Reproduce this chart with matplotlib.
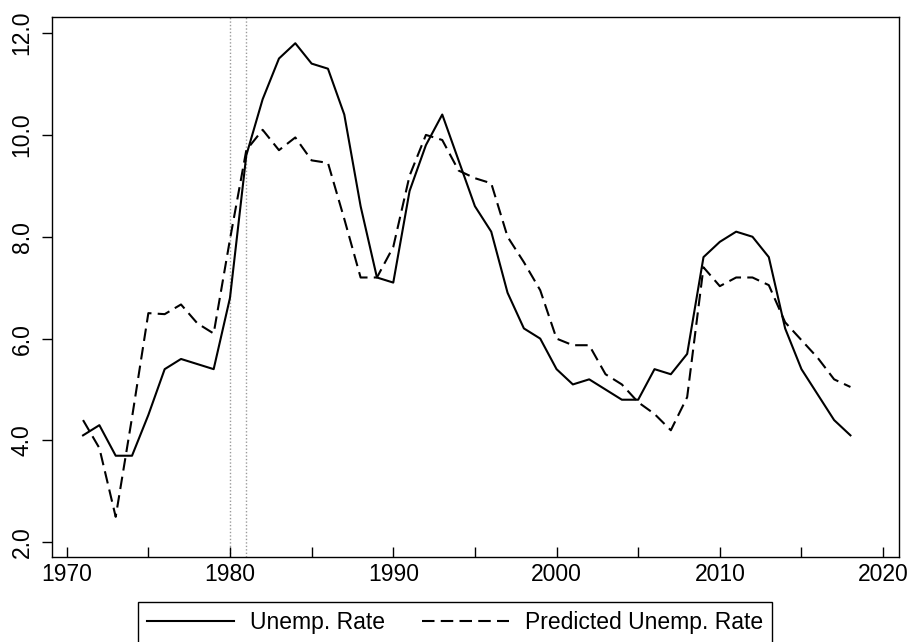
import matplotlib
matplotlib.use("Agg")
import matplotlib.pyplot as plt
from matplotlib.lines import Line2D
from matplotlib.ticker import FormatStrFormatter

# Annual unemployment rate and model prediction
years = list(range(1971, 2019))
unemp_rate = [
    4.1, 4.3, 3.7, 3.7, 4.5, 5.4, 5.6, 5.5, 5.4, 6.8,
    9.6, 10.7, 11.5, 11.8, 11.4, 11.3, 10.4, 8.6, 7.2, 7.1,
    8.9, 9.8, 10.4, 9.5, 8.6, 8.1, 6.9, 6.2, 6.0, 5.4,
    5.1, 5.2, 5.0, 4.8, 4.8, 5.4, 5.3, 5.7, 7.6, 7.9,
    8.1, 8.0, 7.6, 6.2, 5.4, 4.9, 4.4, 4.1,
]
predicted_rate = [
    4.4, 3.85, 2.5, 4.45, 6.5, 6.48, 6.67, 6.3, 6.1, 7.95,
    9.7, 10.1, 9.7, 9.95, 9.5, 9.45, 8.35, 7.2, 7.2, 7.8,
    9.2, 10.0, 9.9, 9.3, 9.15, 9.05, 8.0, 7.5, 6.95, 6.0,
    5.87, 5.87, 5.3, 5.1, 4.75, 4.52, 4.2, 4.85, 7.4, 7.03,
    7.2, 7.2, 7.05, 6.32, 5.97, 5.62, 5.2, 5.05,
]
marker_years = [1980, 1981]
x_major = [1970, 1980, 1990, 2000, 2010, 2020]
x_minor = [1975, 1985, 1995, 2005, 2015]
y_ticks = [2.0, 4.0, 6.0, 8.0, 10.0, 12.0]
series_labels = ["Unemp. Rate", "Predicted Unemp. Rate"]

plt.rcParams["font.family"] = ["Liberation Sans", "DejaVu Sans"]

fig = plt.figure(figsize=(9.1, 6.42), dpi=100)
ax = fig.add_axes([0.0568, 0.1319, 0.9314, 0.8412])

dash = (0, (6, 3))
for yr in marker_years:
    ax.axvline(yr, color="#9a9a9a", lw=1.0, ls=(0, (1, 1.5)), zorder=1)

ax.plot(years, unemp_rate, color="black", lw=1.5, zorder=3)
ax.plot(years, predicted_rate, color="black", lw=1.5, ls=dash, zorder=3)

ax.set_xlim(1969.08, 2020.99)
ax.set_ylim(1.705, 12.31)

ax.set_xticks(x_major)
ax.set_xticks(x_minor, minor=True)
ax.set_yticks(y_ticks)
ax.yaxis.set_major_formatter(FormatStrFormatter("%.1f"))

fs = 16.5
ax.tick_params(axis="x", which="both", direction="in", length=7, width=1.0,
               labelsize=fs, pad=4, color="black")
ax.tick_params(axis="y", direction="out", length=7, width=1.0,
               labelsize=fs, pad=6, labelrotation=90)
for lab in ax.get_yticklabels():
    lab.set_va("center")

for sp in ax.spines.values():
    sp.set_linewidth(1.0)
    sp.set_color("black")

handles = [
    Line2D([], [], color="black", lw=1.5),
    Line2D([], [], color="black", lw=1.5, ls=dash),
]
leg = fig.legend(handles, series_labels, loc="upper center",
                 bbox_to_anchor=(0.5, 0.0628), ncol=2, fontsize=fs,
                 frameon=True, fancybox=False, edgecolor="black", framealpha=1,
                 handlelength=3.8, handletextpad=0.7, columnspacing=1.6,
                 borderpad=0.4, borderaxespad=0)
leg.get_frame().set_linewidth(1.0)

fig.savefig("out.png", dpi=100)
